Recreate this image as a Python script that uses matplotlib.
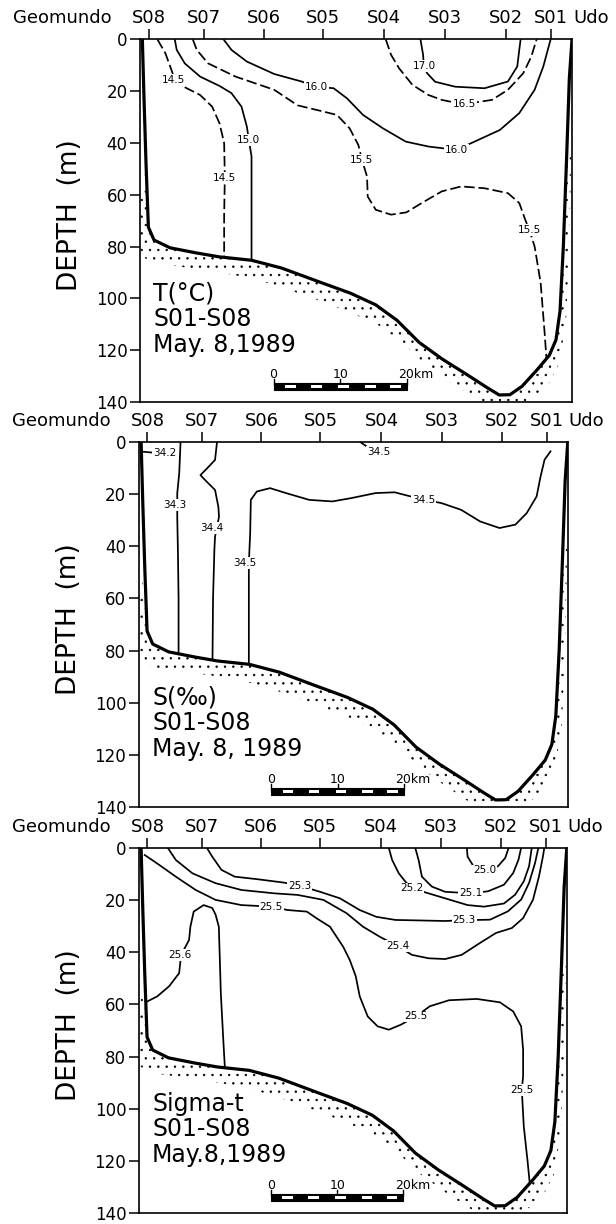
import numpy as np
import matplotlib.pyplot as plt
from matplotlib.patches import Polygon, Rectangle

plt.rcParams["hatch.linewidth"] = 0.5

# stations along the section (km from the left edge)
stations = ["S08", "S07", "S06", "S05", "S04", "S03", "S02", "S01"]
station_km = [1.3, 9.6, 18.5, 27.4, 36.6, 45.7, 54.8, 61.5]
depth_ticks = [0, 20, 40, 60, 80, 100, 120, 140]
x_max = 64.7

# sea bottom profile
bottom_km = [0.35, 0.6, 0.9, 1.25, 2.1, 4.5, 8.5, 11.9, 16.7, 21.2, 27.0, 31.5, 35.3, 38.5, 41.8,
             45.3, 49.0, 52.0, 53.8, 55.4, 57.2, 59.5, 61.3, 62.3, 62.9, 63.4, 63.9, 64.3, 64.7]
bottom_m = [0, 23, 48, 72.5, 77.5, 80.5, 82.5, 84, 85.3, 88.3, 93.8, 98, 102.5, 108.5, 117,
            123.5, 129.5, 134.5, 137.3, 137.2, 134, 127.5, 122, 116, 105, 80, 45, 15, 0]
# outer edge of the dotted sediment band
stipple_km = [0.0, 0.0, 0.3, 2.5, 8.0, 12.0, 17.0, 21.5, 27.0, 31.5, 35.5, 39.0, 42.5, 46.0,
              49.5, 52.0, 54.0, 56.5, 59.0, 61.2, 62.8, 63.8, 64.3, 64.6]
stipple_m = [64, 79, 84, 86.5, 88.5, 90, 92.5, 96, 101, 105.5, 110, 116.5, 125, 131.5,
             137.5, 141, 142, 141.5, 138, 133, 125, 109, 80, 40]

scale_ticks = [20, 30, 40]
scale_labels = ["0", "10", "20km"]
scale_dash_km = [22.5, 26.4, 30.5, 34.5, 38.3]

# temperature isolines (km, m)
t_145 = [(2.6, 0), (3.8, 5.4), (4.8, 12.5), (5.2, 15.9), (6.7, 18.5), (9.0, 21.5), (10.8, 26),
         (11.9, 32.4), (12.6, 40), (12.7, 53), (12.6, 68), (12.6, 88)]
t_150 = [(5.2, 0), (5.5, 4.1), (6.7, 9.3), (9.0, 14.4), (11.9, 18), (13.7, 20.8), (15.2, 26),
         (16.0, 33.7), (16.3, 38.8), (16.7, 45.2), (16.7, 62), (16.7, 89)]
t_155 = [(7.9, 0), (8.5, 4.1), (10.2, 9.3), (14.3, 14.4), (20.1, 19.5), (23.6, 25.5), (26.5, 27.3),
         (29.5, 29.2), (31.4, 34.4), (32.7, 40.8), (33.3, 47), (34.0, 53), (34.1, 60.7),
         (35.3, 65.8), (37.6, 67.7), (39.9, 66.8), (42.2, 63.2), (45.2, 58.7), (48.1, 56.8),
         (51.6, 57.5), (55.1, 59.4), (56.8, 63.2), (57.7, 69.7), (58.3, 73.5), (59.1, 80),
         (60.0, 94), (60.6, 113.4), (61.0, 128)]
t_160 = [(12.5, 0), (13.7, 4.1), (16, 8.6), (20.1, 13.4), (24.2, 16.3), (26.3, 18.3), (29, 18.9),
         (31, 22.8), (33.4, 29.2), (36.4, 34.4), (39.8, 39.5), (43.2, 41.4), (47.4, 42.7),
         (50.1, 39.5), (53.9, 35), (56.8, 28.5), (59.1, 19.5), (60.4, 10.5), (61.5, 0)]
t_165 = [(36.8, 0), (37.6, 6), (38.8, 11.2), (40.8, 17.6), (43.2, 21.5), (45.2, 23.4), (48.4, 25.1),
         (52.7, 23.4), (55.1, 19.5), (57.4, 13.1), (58.6, 6.7), (59.4, 0)]
t_170 = [(42.0, 0), (42.4, 6), (42.5, 10.6), (43, 13.1), (44.2, 16.4), (47.2, 18.3), (51.6, 18.9),
         (55.1, 16.3), (56.5, 10.5), (56.8, 4.1), (57, 0)]
t_labels = [("14.5", 5.0, 15.6), ("14.5", 12.6, 53.5), ("15.0", 16.2, 38.8), ("15.5", 33.2, 46.5),
            ("15.5", 58.3, 73.5), ("16.0", 26.4, 18.3), ("16.0", 47.4, 42.7), ("16.5", 48.6, 25.1),
            ("17.0", 42.6, 10.3)]

# salinity isolines
s_342 = [(0.5, 3.7), (2.2, 4.1)]
s_343 = [(6.3, 0), (6.1, 12), (5.8, 19.7), (5.8, 24.2), (5.8, 28.7), (5.9, 41.4), (6.0, 60), (6.0, 86)]
s_344 = [(11.8, 0), (11.5, 6.9), (10.3, 10.1), (9.3, 12.7), (10.0, 14.6), (11.5, 18.4), (12.0, 24.8),
         (12.1, 28.7), (11.5, 36.3), (11.4, 41.4), (11.2, 60), (11.1, 88)]
s_345a = [(33.4, 0), (34.3, 1.6)]
s_345 = [(16.6, 90), (16.6, 60.6), (16.6, 46.5), (16.8, 35), (16.9, 22.2), (17.8, 19), (19.8, 17.7),
         (22.2, 19.6), (25.7, 22.2), (29.2, 22.8), (32.1, 21.5), (35.7, 19.6), (38.6, 19.3),
         (43, 22.2), (45.6, 23.4), (48.6, 26), (51.5, 30.5), (54.4, 33), (56.8, 31.7), (58.5, 27.3),
         (60, 20.9), (60.6, 13.2), (61.2, 6.8), (62.1, 3.6)]
s_labels = [("34.2", 3.9, 4.3), ("34.3", 5.5, 24.2), ("34.4", 11.0, 33.1), ("34.5", 16.0, 46.5),
            ("34.5", 43.0, 22.2), ("34.5", 36.2, 3.8)]

# sigma-t isolines
d_250 = [(49.6, 0), (49.7, 3.3), (50.6, 7.0), (52.3, 8.6), (54.3, 7.0), (55.4, 3.8), (55.9, 0)]
d_251 = [(41.8, 0), (42.3, 4.6), (42.8, 11), (44.3, 14.8), (46.3, 16.8), (50.2, 17.4), (52.8, 16.6),
         (55.2, 14.1), (56.6, 9.6), (57.4, 4.5), (57.8, 0)]
d_252 = [(37.8, 0), (38.3, 4.6), (39.3, 9.7), (40.3, 12.9), (41.3, 15.5), (43.8, 17.4), (46.3, 19.3),
         (49.7, 21.9), (52.2, 22.5), (55.2, 21.3), (56.9, 17.9), (58.2, 12.8), (59.0, 7), (59.4, 0)]
d_253 = [(10.3, 0), (11.1, 3.3), (12.5, 8.4), (14.5, 11), (18, 12), (22, 13.3), (24.3, 14.5),
         (27.4, 16.8), (30.4, 19.3), (33.4, 23.8), (35.9, 26.4), (38.8, 27.6), (46.3, 28),
         (49.2, 27.7), (53.1, 27.5), (55.8, 24.3), (57.8, 19.8), (59, 13.4), (59.9, 5.8), (60.4, 0)]
d_254 = [(4.4, 0), (5.6, 4.6), (8.1, 9.7), (11.6, 13.5), (15.5, 16.1), (20.5, 17.4), (24, 18),
         (27.9, 19.9), (31.4, 25), (33.9, 30.2), (36.4, 34), (39.1, 37.6), (41.3, 41), (43.8, 42.3),
         (46.3, 42.6), (48.8, 41), (51.6, 36.4), (54, 32.6), (56.4, 30.7), (58.1, 26.9), (59.6, 19.8),
         (60.5, 10.9), (61.1, 3.2), (61.3, 0)]
d_255 = [(0.9, 2.7), (3.1, 6.5), (5.6, 11), (8.6, 16.1), (11.6, 19.9), (15.5, 21.9), (20, 22.5),
         (22.5, 23.8), (25.4, 24.4), (26.9, 27), (28.9, 30.2), (30.9, 37.9), (31.9, 43), (32.8, 49.2),
         (33.4, 56.9), (34.6, 64.6), (36.1, 68.4), (37.8, 69.7), (39.6, 67.8), (41.9, 64.6),
         (44, 60.7), (46.9, 58.4), (51.1, 57.9), (54.6, 59.2), (56.6, 62.7), (57.8, 68.4),
         (58.1, 77.4), (58.1, 87.6), (57.9, 92.7), (58.2, 106.8), (58.8, 120.8), (59.3, 134)]
d_256 = [(0.8, 59.5), (2.8, 56.9), (4.6, 53), (6.1, 48), (6.4, 41), (7.6, 35.3), (7.8, 30.2),
         (8.3, 24.4), (9.8, 21.9), (11.1, 23), (11.6, 25.5), (12.1, 30.2), (12.3, 46.8),
         (12.4, 55.6), (12.8, 74.8), (13.1, 88)]
d_labels = [("25.0", 52.3, 8.6), ("25.1", 50.2, 17.4), ("25.2", 41.3, 15.5), ("25.3", 24.3, 14.5),
            ("25.3", 49.2, 27.7), ("25.4", 39.1, 37.6), ("25.5", 20.0, 22.5), ("25.5", 41.9, 64.6),
            ("25.5", 57.9, 92.7), ("25.6", 6.2, 41.0)]

dash = (0, (6, 2.2))
panels = [
    ([0.2273, 0.6716, 0.7013, 0.2963],
     [(t_145, dash), (t_150, "-"), (t_155, dash), (t_160, "-"), (t_165, dash), (t_170, "-")],
     t_labels, "T(°C)\nS01-S08\nMay. 8,1989"),
    ([0.2253, 0.3407, 0.6964, 0.2982],
     [(s_342, "-"), (s_343, "-"), (s_344, "-"), (s_345a, "-"), (s_345, "-")],
     s_labels, "S(‰)\nS01-S08\nMay. 8, 1989"),
    ([0.2253, 0.0090, 0.6948, 0.2982],
     [(d_250, "-"), (d_251, "-"), (d_252, "-"), (d_253, "-"), (d_254, "-"), (d_255, "-"), (d_256, "-")],
     d_labels, "Sigma-t\nS01-S08\nMay.8,1989"),
]

fig = plt.figure(figsize=(6.16, 12.24), dpi=100)

bk = np.array(bottom_km)
bm = np.array(bottom_m)
keep = bm >= 40

for rect, lines, labels, title in panels:
    ax = fig.add_axes(rect)
    ax.set_xlim(0, x_max)
    ax.set_ylim(140, 0)

    water = Polygon(np.column_stack([bk, bm]), closed=True, transform=ax.transData)
    for pts, ls in lines:
        xs, zs = zip(*pts)
        ln, = ax.plot(xs, zs, color="k", lw=1.25, linestyle=ls, solid_joinstyle="round")
        ln.set_clip_path(water)
    for s, x, z in labels:
        ax.text(x, z, s, fontsize=7.5, ha="center", va="center", zorder=5,
                bbox=dict(facecolor="white", edgecolor="none", pad=0.6))

    band = np.vstack([np.column_stack([stipple_km, stipple_m]),
                      np.column_stack([bk[keep], bm[keep]])[::-1]])
    ax.add_patch(Polygon(band, closed=True, facecolor="none", edgecolor="k",
                         lw=0, hatch="..", zorder=1))
    ax.plot(bottom_km, bottom_m, color="k", lw=2.3, zorder=4, solid_joinstyle="round")

    # scale bar
    ax.add_patch(Rectangle((scale_ticks[0], 132.6), scale_ticks[-1] - scale_ticks[0], 2.8,
                           facecolor="k", edgecolor="k", lw=0.8, zorder=4))
    for c in scale_dash_km:
        ax.add_patch(Rectangle((c - 0.8, 133.5), 1.6, 1.0, facecolor="white",
                               edgecolor="none", zorder=5))
    for xt, lab in zip(scale_ticks, scale_labels):
        ax.plot([xt, xt], [131.3, 133], color="k", lw=1.0, zorder=4)
        if lab.endswith("km"):
            ax.text(xt - 1.3, 130.8, lab, fontsize=9, ha="left", va="baseline")
        else:
            ax.text(xt, 130.8, lab, fontsize=9, ha="center", va="baseline")

    ax.text(2.0, 93.5, title, fontsize=17, ha="left", va="top", linespacing=1.08)

    ax.xaxis.tick_top()
    ax.set_xticks(station_km)
    ax.set_xticklabels(stations, fontsize=13)
    ax.tick_params(axis="x", direction="out", length=7, width=1.1, pad=1.5)
    ax.set_yticks(depth_ticks)
    ax.set_yticklabels([str(d) for d in depth_ticks], fontsize=12)
    ax.tick_params(axis="y", direction="out", length=7, width=1.1, pad=2)
    for sp in ax.spines.values():
        sp.set_linewidth(1.2)

    ax.annotate("Geomundo", xy=(-0.18, 1), xycoords="axes fraction", xytext=(0, 8.5),
                textcoords="offset points", ha="center", va="bottom", fontsize=13)
    ax.annotate("Udo", xy=(1.044, 1), xycoords="axes fraction", xytext=(0, 8.5),
                textcoords="offset points", ha="center", va="bottom", fontsize=13)
    ax.text(-0.162, 0.515, "DEPTH  (m)", transform=ax.transAxes, rotation=90,
            fontsize=19, ha="center", va="center")

fig.savefig("out.png", dpi=100)
